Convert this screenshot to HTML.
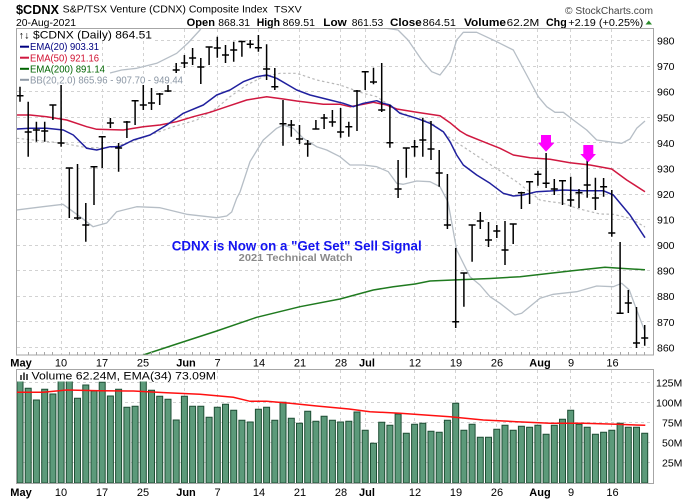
<!DOCTYPE html>
<html><head><meta charset="utf-8"><style>
html,body{margin:0;padding:0;background:#fff;}
svg{display:block;}
text{font-family:"Liberation Sans",Arial,sans-serif;}
</style></head><body>
<svg width="700" height="500" viewBox="0 0 700 500" xmlns="http://www.w3.org/2000/svg">
<defs>
<clipPath id="cp"><rect x="17" y="29" width="636" height="326"/></clipPath>
<clipPath id="cv"><rect x="17" y="370" width="636" height="113"/></clipPath>
</defs>
<rect width="700" height="500" fill="#fff"/>

<!-- Header -->
<text x="16" y="14" font-size="13" font-weight="bold" textLength="43" lengthAdjust="spacingAndGlyphs">$CDNX</text>
<text x="62.7" y="12.6" font-size="10" textLength="205" lengthAdjust="spacingAndGlyphs">S&amp;P/TSX Venture (CDNX) Composite Index</text>
<text x="274" y="12.6" font-size="9" textLength="27.7" lengthAdjust="spacingAndGlyphs">TSXV</text>
<text x="565" y="14" font-size="10" fill="#444" textLength="88" lengthAdjust="spacingAndGlyphs">© StockCharts.com</text>
<text x="16" y="26" font-size="10.5" textLength="60" lengthAdjust="spacingAndGlyphs">20-Aug-2021</text>
<g font-size="10.5">
<text x="186.7" y="26" font-weight="bold" font-size="11" textLength="28.3" lengthAdjust="spacingAndGlyphs">Open</text>
<text x="218.3" y="26" textLength="31.7" lengthAdjust="spacingAndGlyphs">868.31</text>
<text x="256.7" y="26" font-weight="bold" font-size="11" textLength="23.3" lengthAdjust="spacingAndGlyphs">High</text>
<text x="282.7" y="26" textLength="32.3" lengthAdjust="spacingAndGlyphs">869.51</text>
<text x="323.3" y="26" font-weight="bold" font-size="11" textLength="23.4" lengthAdjust="spacingAndGlyphs">Low</text>
<text x="351.7" y="26" textLength="31.6" lengthAdjust="spacingAndGlyphs">861.53</text>
<text x="390" y="26" font-weight="bold" font-size="11" textLength="31.7" lengthAdjust="spacingAndGlyphs">Close</text>
<text x="422.7" y="26" textLength="33.3" lengthAdjust="spacingAndGlyphs">864.51</text>
<text x="464" y="26" font-weight="bold" font-size="11" textLength="42" lengthAdjust="spacingAndGlyphs">Volume</text>
<text x="506.7" y="26" textLength="32.6" lengthAdjust="spacingAndGlyphs">62.2M</text>
<text x="546" y="26" font-weight="bold" font-size="11" textLength="20.7" lengthAdjust="spacingAndGlyphs">Chg</text>
<text x="568.3" y="26" textLength="75" lengthAdjust="spacingAndGlyphs">+2.19 (+0.25%)</text>
</g>
<polygon points="645.5,24.5 652,24.5 648.75,20.5" fill="#2a8a2a"/>

<!-- Main panel grid -->
<g stroke="#d2d2d2" stroke-width="1" stroke-dasharray="3,3" fill="none">
<path d="M17 40.5H653M17 66.5H653M17 91.5H653M17 117.5H653M17 142.5H653M17 168.5H653M17 194.5H653M17 219.5H653M17 245.5H653M17 270.5H653M17 296.5H653M17 321.5H653M17 347.5H653"/>
<path d="M61.5 29V355M102.5 29V355M143.5 29V355M184.5 29V355M217.5 29V355M258.5 29V355M299.5 29V355M340.5 29V355M365.5 29V355M414.5 29V355M455.5 29V355M496.5 29V355M537.5 29V355M570.5 29V355M611.5 29V355"/>
</g>

<!-- Overlay text in chart -->
<text x="171.7" y="250.5" font-size="13.5" font-weight="bold" fill="#1414f0" textLength="250" lengthAdjust="spacingAndGlyphs">CDNX is Now on a "Get Set" Sell Signal</text>
<text x="238.7" y="261" font-size="10.5" font-weight="bold" fill="#8a8a8a" textLength="114" lengthAdjust="spacingAndGlyphs">2021 Technical Watch</text>

<g clip-path="url(#cp)" fill="none" stroke-linejoin="round">
<!-- Upper BB -->
<polyline stroke="#b6bec6" stroke-width="1.3" points="110,73 121.7,70 136.7,68.3 156.7,63.3 176.7,53.3 188,43 200,30 206,18 380,18 386.7,28.3 398,30 408,40 421.7,60 431.7,71.7 440,75 450,62 456.7,40 463.3,32.3 476.7,32.3 496.7,41.7 513.3,50 526.7,75 538.3,96.7 546.7,106.7 555,112.3 563.3,112.3 573.3,120 586.7,130 596.7,140 613.3,142.3 621.7,143.3 630,139 636.7,128.3 645,121"/>
<!-- Lower BB -->
<polyline stroke="#b6bec6" stroke-width="1.3" points="16.7,210 43,206.7 63,204.3 80,216.7 93,226.7 106.7,223 116.7,211.7 136.7,206.7 160,207.7 186.7,214.3 216.7,217.7 226.7,216 231.7,212 236.7,198.3 240,192 250,161.7 263.3,140 276.7,128.3 283.3,125 293.3,128.3 303.3,138.3 316.7,146.7 326.7,150 340,156.7 350,165 363.3,165 376.7,166.7 388.3,171.7 396.7,183.3 403.3,184.3 416.7,181 430,181.7 440,186.7 448,202 456.7,250 470,276.7 480,285 490,296.7 500,303.3 515,315 521.7,313.3 540,298.3 553.3,294.3 576.7,291.7 596.7,286 613.3,286.7 621.7,283.3 629.3,290 636.7,310 645,331.7"/>
<!-- SMA20 dotted -->
<polyline stroke="#b8b8b8" stroke-width="1.2" stroke-dasharray="2.5,2.5" points="16.7,138.3 43.3,141 63,143.3 86.7,147.7 110,147.7 126.7,143.3 150,135 173.3,126.7 196.7,120 216.7,108 230,96.7 246.7,85 263.3,76.7 280,73.3 296.7,73.3 316.7,80 340,85 363.3,93.3 376.7,96.7 386.7,103.3 400,112.3 416.7,118.3 430,121.7 450,138 483.3,160 516.7,181.7 540,200 550,201.7 563.3,203.3 576.7,208.3 600,214 613.3,214.3 630,218.3 645,227"/>
<!-- EMA200 -->
<polyline stroke="#1f7a1f" stroke-width="1.5" points="120,362 143.3,355 176.7,344 216.7,331 256.7,317.3 300,306.7 340,299 373.3,290 393.3,286.7 415,284 430,281 453,280 490,278.5 520,276.7 570,271 605,267.3 620,268.3 645,269.7"/>
<!-- EMA50 -->
<polyline stroke="#d01840" stroke-width="1.5" points="16.7,115 30,115 46.7,116.7 66.7,120 86.7,126.7 96.7,129.3 123.3,130 143.3,126.7 160,125 176.7,121.7 193.3,116.7 210,112.3 226.7,106.7 246.7,100 266.7,96.7 283.3,99 296.7,101 323.3,104.3 340,104.3 350,106.7 363.3,104.3 373.3,102.3 386.7,105 396.7,109 416.7,112.3 440,115.7 450,122.7 460,131 466.7,135 483.3,141.7 500,148.3 513.3,155 530,157.7 550,159.3 570,162.7 590,165 611.7,169 626.7,180 645,191.7"/>
<!-- EMA20 -->
<polyline stroke="#20209e" stroke-width="1.5" points="16.7,129 30,128.3 46.7,128.3 63.3,130 73.3,135 86.7,148.3 96.7,150 110,146.7 120,146.7 133.3,140 150,135 166.7,125 183.3,113.3 203.3,105 216.7,95 230,90 243.3,81.7 256.7,76.7 266.7,75 276.7,78.3 296.7,90 310,95 330,100 343.3,103.3 353.3,106.7 363.3,103.3 376.7,100.7 383.3,103.3 390,105 400,113.3 416.7,118.3 430,123.3 443.3,131.7 450,141.7 456.7,155 463.3,165 476.7,175 490,183.3 503.3,193.3 513.3,196 523.3,195 536.7,191.7 550,191 563.3,190 583.3,190.7 603.3,190.7 613.3,195 630,215 645,237.7"/>
</g>

<!-- OHLC bars -->
<path fill="none" stroke="#000" stroke-width="1.5" d="M20 86.7V101.7M16.5 95.7H23.5
M28.2 101.7V156.7M24.7 132H31.7
M36.4 121.7V141.7M32.9 130H39.9
M44.7 121.7V141.7M41.2 131H48.2
M52.9 105V120M49.4 105H56.4
M61.1 85V146.7M57.6 143H64.6
M69.3 167.7V218M65.8 168H72.8
M77.5 164V220M74 218H81
M85.8 203V241.7M82.3 225H89.3
M94 166V205M90.5 166.7H97.5
M102.2 136.7V168M98.7 136.7H105.7
M110.4 118V128M106.9 123H113.9
M118.6 143V171.7M115.1 148H122.1
M126.9 121V138M123.4 122H130.4
M135.1 100V125M131.6 100.7H138.6
M143.3 85V110M139.8 105H146.8
M151.5 88V110M148 103H155
M159.7 93V105M156.2 94H163.2
M168 85V92M164.5 91H171.5
M176.2 63V73M172.7 70H179.7
M184.4 55V68M180.9 63H187.9
M192.6 48V65M189.1 58H196.1
M200.8 58V84M197.3 67H204.3
M209.1 46.7V65M205.6 47H212.6
M217.3 36.7V57.7M213.8 48H220.8
M225.5 45V63M222 55H229
M233.7 41.7V61.7M230.2 50H237.2
M241.9 41V56.7M238.4 41.5H245.4
M250.2 40V48.3M246.7 44.3H253.7
M258.4 35V51.7M254.9 47.7H261.9
M266.6 44.3V80M263.1 69H270.1
M274.8 68V90M271.3 86.7H278.3
M283 100V145.7M279.5 123.7H286.5
M291.3 120V136.7M287.8 125H294.8
M299.5 125V144M296 139H303
M307.7 140V156.7M304.2 144H311.2
M315.9 120V129M312.4 129H319.4
M324.1 114V129M320.6 118H327.6
M332.4 110V126.7M328.9 122H335.9
M340.6 108V137.7M337.1 132H344.1
M348.8 121.7V136.7M345.3 126.7H352.3
M357 90V131M353.5 91H360.5
M365.2 71V90M361.7 71.7H368.7
M373.5 67.7V84.3M370 82H377
M381.7 63V112M378.2 110H385.2
M389.9 105V147.7M386.4 142.7H393.4
M398.1 160V198M394.6 189H401.6
M406.3 147.7V177.7M402.8 148H409.8
M414.6 140V156.7M411.1 146.7H418.1
M422.8 117.7V156.7M419.3 140H426.3
M431 121V160M427.5 149H434.5
M439.2 150V186.7M435.7 173H442.7
M447.4 174V229M443.9 225H450.9
M455.7 248V328M452.2 321.7H459.2
M463.9 272.7V306.7M460.4 273H467.4
M472.1 225V261.7M468.6 225H475.6
M480.3 212V229M476.8 221H483.8
M488.5 222V247M485 240H492
M496.8 225V238M493.3 231H500.3
M505 221V265M501.5 250H508.5
M513.2 224V244M509.7 224H516.7
M521.4 191.7V209M517.9 192.7H524.9
M529.6 181V204M526.1 181.7H533.1
M537.9 170.7V185.7M534.4 174.3H541.4
M546.1 153V188M542.6 183.3H549.6
M554.3 179V195M550.8 189H557.8
M562.5 180V205M559 180.7H566
M570.7 176.7V206.7M567.2 200H574.2
M579 189V208M575.5 192.7H582.5
M587.2 155V197.7M583.7 185H590.7
M595.4 177.7V210M591.9 198H598.9
M603.6 178V196.7M600.1 186.7H607.1
M611.8 190V236.7M608.3 233H615.3
M620.1 242V314M616.6 313.3H623.6
M628.3 290V313M624.8 303H631.8
M636.5 307V348M633 343H640
M644.7 325V345.7M641.2 338H648.2"/>

<!-- Magenta arrows -->
<polygon fill="#ff00ff" points="541,135 551,135 551,142.7 554.5,142.7 546,151.7 538,142.7 541,142.7"/>
<polygon fill="#ff00ff" points="583.3,145 593.3,145 593.3,154 596,154 588.3,162.3 580.3,154 583.3,154"/>

<!-- Main legend (white backgrounds) -->
<g fill="#fff">
<rect x="17" y="29" width="136" height="12"/>
<rect x="17" y="41" width="84" height="11"/>
<rect x="17" y="52" width="84" height="11"/>
<rect x="17" y="63" width="90" height="11"/>
<rect x="17" y="74" width="168" height="11"/>
</g>
<text x="18.5" y="38.5" font-size="10" font-family="'DejaVu Sans',sans-serif" textLength="11" lengthAdjust="spacingAndGlyphs">↑↓</text>
<text x="33" y="38.5" font-size="11" textLength="119" lengthAdjust="spacingAndGlyphs">$CDNX (Daily) 864.51</text>
<path d="M20 46.7H29" stroke="#000080" stroke-width="2"/>
<text x="30" y="50.2" font-size="10.5" fill="#000080" textLength="69" lengthAdjust="spacingAndGlyphs">EMA(20) 903.31</text>
<path d="M20 57.7H29" stroke="#d01840" stroke-width="2"/>
<text x="30" y="61.3" font-size="10.5" fill="#d01030" textLength="69" lengthAdjust="spacingAndGlyphs">EMA(50) 921.16</text>
<path d="M20 68.8H29" stroke="#006400" stroke-width="2"/>
<text x="30" y="72.4" font-size="10.5" fill="#006400" textLength="75" lengthAdjust="spacingAndGlyphs">EMA(200) 891.14</text>
<path d="M20 79.8H29" stroke="#909aa6" stroke-width="2"/>
<text x="30" y="83.5" font-size="10.5" fill="#8a96a4" textLength="153" lengthAdjust="spacingAndGlyphs">BB(20,2.0) 865.96 - 907.70 - 949.44</text>

<!-- Main panel frame -->
<rect x="16.5" y="28.5" width="637" height="326.5" fill="none" stroke="#a6a6a6" stroke-width="1"/>
<!-- bottom ticks -->
<path stroke="#a6a6a6" stroke-width="1" d="M28.5 352V355M36.5 352V355M44.5 352V355M52.5 352V355M69.5 352V355M77.5 352V355M85.5 352V355M94.5 352V355M110.5 352V355M118.5 352V355M126.5 352V355M135.5 352V355M151.5 352V355M159.5 352V355M168.5 352V355M176.5 352V355M192.5 352V355M200.5 352V355M209.5 352V355M225.5 352V355M233.5 352V355M241.5 352V355M250.5 352V355M266.5 352V355M274.5 352V355M283.5 352V355M291.5 352V355M307.5 352V355M315.5 352V355M324.5 352V355M332.5 352V355M348.5 352V355M357.5 352V355M373.5 352V355M381.5 352V355M389.5 352V355M398.5 352V355M406.5 352V355M422.5 352V355M431.5 352V355M439.5 352V355M447.5 352V355M463.5 352V355M472.5 352V355M480.5 352V355M488.5 352V355M505.5 352V355M513.5 352V355M521.5 352V355M529.5 352V355M546.5 352V355M554.5 352V355M562.5 352V355M579.5 352V355M587.5 352V355M595.5 352V355M603.5 352V355M620.5 352V355M628.5 352V355M636.5 352V355M644.5 352V355"/>

<!-- Right price axis -->
<g font-size="10.5" fill="#000">
<text x="657" y="44.5">980</text>
<text x="657" y="70.2">970</text>
<text x="657" y="95.7">960</text>
<text x="657" y="121.3">950</text>
<text x="657" y="146.8">940</text>
<text x="657" y="172.4">930</text>
<text x="657" y="198">920</text>
<text x="657" y="223.5">910</text>
<text x="657" y="249.1">900</text>
<text x="657" y="274.6">890</text>
<text x="657" y="300.2">880</text>
<text x="657" y="325.8">870</text>
<text x="657" y="351.3">860</text>
</g>

<!-- X labels between panels -->
<g font-size="11" text-anchor="middle">
<text x="21" y="366.5" font-weight="bold">May</text>
<text x="61" y="366.5">10</text>
<text x="102" y="366.5">17</text>
<text x="143" y="366.5">25</text>
<text x="186" y="366.5" font-weight="bold">Jun</text>
<text x="217.5" y="366.5">7</text>
<text x="259" y="366.5">14</text>
<text x="300" y="366.5">21</text>
<text x="341" y="366.5">28</text>
<text x="367" y="366.5" font-weight="bold">Jul</text>
<text x="415" y="366.5">12</text>
<text x="456" y="366.5">19</text>
<text x="497" y="366.5">26</text>
<text x="540" y="366.5" font-weight="bold">Aug</text>
<text x="571" y="366.5">9</text>
<text x="612.5" y="366.5">16</text>
</g>

<!-- Volume panel grid -->
<g stroke="#d2d2d2" stroke-width="1" stroke-dasharray="3,3" fill="none">
<path d="M17 382.5H653M17 402.5H653M17 422.5H653M17 442.5H653M17 462.5H653"/>
<path d="M61.5 370V483M102.5 370V483M143.5 370V483M184.5 370V483M217.5 370V483M258.5 370V483M299.5 370V483M340.5 370V483M365.5 370V483M414.5 370V483M455.5 370V483M496.5 370V483M537.5 370V483M570.5 370V483M611.5 370V483"/>
</g>

<!-- Volume bars -->
<g clip-path="url(#cv)">
<path fill="#5c9a7a" stroke="#1e4e34" stroke-width="1" d="M17 375h6V483h-6Z
M25.2 388.3h6V483h-6Z
M33.4 400h6V483h-6Z
M41.7 389.3h6V483h-6Z
M49.9 394h6V483h-6Z
M58.1 375h6V483h-6Z
M66.3 375h6V483h-6Z
M74.5 398.3h6V483h-6Z
M82.8 385h6V483h-6Z
M91 391h6V483h-6Z
M99.2 382.3h6V483h-6Z
M107.4 396h6V483h-6Z
M115.6 389.3h6V483h-6Z
M123.9 407.3h6V483h-6Z
M132.1 406.3h6V483h-6Z
M140.3 375h6V483h-6Z
M148.5 390.3h6V483h-6Z
M156.7 396.3h6V483h-6Z
M165 399.3h6V483h-6Z
M173.2 420h6V483h-6Z
M181.4 396.3h6V483h-6Z
M189.6 406.3h6V483h-6Z
M197.8 406.3h6V483h-6Z
M206.1 417.3h6V483h-6Z
M214.3 407.3h6V483h-6Z
M222.5 404.3h6V483h-6Z
M230.7 410.3h6V483h-6Z
M238.9 420.3h6V483h-6Z
M247.2 422h6V483h-6Z
M255.4 409.3h6V483h-6Z
M263.6 407.3h6V483h-6Z
M271.8 420.3h6V483h-6Z
M280 402.3h6V483h-6Z
M288.3 418.3h6V483h-6Z
M296.5 423.3h6V483h-6Z
M304.7 411.3h6V483h-6Z
M312.9 421.3h6V483h-6Z
M321.1 416.3h6V483h-6Z
M329.4 420.3h6V483h-6Z
M337.6 422h6V483h-6Z
M345.8 421.3h6V483h-6Z
M354 412h6V483h-6Z
M362.2 430.3h6V483h-6Z
M370.5 443.3h6V483h-6Z
M378.7 422.3h6V483h-6Z
M386.9 425.3h6V483h-6Z
M395.1 414h6V483h-6Z
M403.3 433.3h6V483h-6Z
M411.6 424.3h6V483h-6Z
M419.8 423.3h6V483h-6Z
M428 431.3h6V483h-6Z
M436.2 432.3h6V483h-6Z
M444.4 420.3h6V483h-6Z
M452.7 403.3h6V483h-6Z
M460.9 430.3h6V483h-6Z
M469.1 424.3h6V483h-6Z
M477.3 437.3h6V483h-6Z
M485.5 437.3h6V483h-6Z
M493.8 429.3h6V483h-6Z
M502 425.3h6V483h-6Z
M510.2 430.3h6V483h-6Z
M518.4 426.3h6V483h-6Z
M526.6 427.3h6V483h-6Z
M534.9 425.3h6V483h-6Z
M543.1 434.3h6V483h-6Z
M551.3 425.3h6V483h-6Z
M559.5 419.3h6V483h-6Z
M567.7 410.3h6V483h-6Z
M576 424.3h6V483h-6Z
M584.2 427.3h6V483h-6Z
M592.4 434.3h6V483h-6Z
M600.6 432.3h6V483h-6Z
M608.8 430.3h6V483h-6Z
M617.1 423.3h6V483h-6Z
M625.3 427.3h6V483h-6Z
M633.5 427.3h6V483h-6Z
M641.7 433.3h6V483h-6Z"/>
<polyline fill="none" stroke="#ff1010" stroke-width="1.5" points="16.7,392.3 43.3,392.3 66.7,390 100,390.7 133.3,391 166.7,392.7 200,394.3 233.3,397.3 250,401.3 266.7,401.3 290,403.3 316.7,406 349,409 370,411.7 400,413.3 450,416.7 483.3,420 516.7,421.7 550,423.3 583.3,423.3 616.7,424.3 645.3,425.3"/>
</g>

<!-- Volume legend -->
<rect x="17" y="370" width="200" height="11.5" fill="#fff"/>
<path fill="#555" d="M20 375h2v5h-2ZM23 372.5h2v7.5h-2ZM26 374h2v6h-2Z"/>
<text x="31.5" y="379.7" font-size="11" textLength="184.5" lengthAdjust="spacingAndGlyphs">Volume 62.24M, EMA(34) 73.09M</text>

<!-- Volume frame -->
<rect x="16.5" y="369.5" width="637" height="114" fill="none" stroke="#a6a6a6" stroke-width="1"/>

<!-- Volume axis labels -->
<g font-size="10.5" fill="#000">
<text x="656" y="386.5">125M</text>
<text x="656" y="406.5">100M</text>
<text x="662" y="426.5">75M</text>
<text x="662" y="446.5">50M</text>
<text x="662" y="466.5">25M</text>
</g>

<!-- Bottom X labels -->
<g font-size="11" text-anchor="middle">
<text x="21" y="496" font-weight="bold">May</text>
<text x="61" y="496">10</text>
<text x="102" y="496">17</text>
<text x="143" y="496">25</text>
<text x="186" y="496" font-weight="bold">Jun</text>
<text x="217.5" y="496">7</text>
<text x="259" y="496">14</text>
<text x="300" y="496">21</text>
<text x="341" y="496">28</text>
<text x="367" y="496" font-weight="bold">Jul</text>
<text x="415" y="496">12</text>
<text x="456" y="496">19</text>
<text x="497" y="496">26</text>
<text x="540" y="496" font-weight="bold">Aug</text>
<text x="571" y="496">9</text>
<text x="612.5" y="496">16</text>
</g>
</svg>
</body></html>
